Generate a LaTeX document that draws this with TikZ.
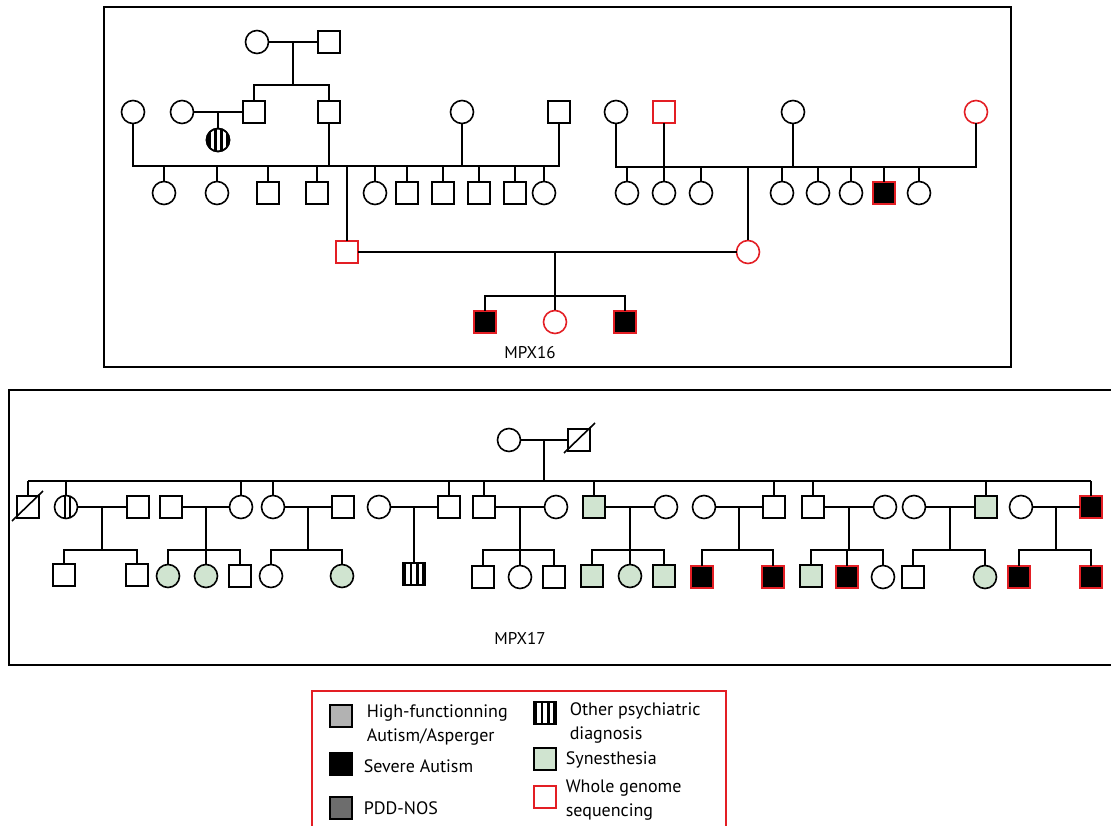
\documentclass[tikz,border=0pt]{standalone}
\usepackage{fontspec}
\setmainfont{PT Sans}
\usetikzlibrary{calc}
\definecolor{wred}{RGB}{227,30,36}
\definecolor{syngreen}{RGB}{208,228,208}
\definecolor{hfgray}{RGB}{178,178,178}
\definecolor{pddgray}{RGB}{109,109,109}
\newcommand{\sqstripes}[1]{%
  \fill[black] ($(#1.center)+(-11,-11)$) rectangle ++(3,22);
  \fill[black] ($(#1.center)+(-4.5,-11)$) rectangle ++(2.5,22);
  \fill[black] ($(#1.center)+(2,-11)$) rectangle ++(2.5,22);
  \fill[black] ($(#1.center)+(8,-11)$) rectangle ++(3,22);}
\begin{document}
\begin{tikzpicture}[x=1pt,y=-1pt,line width=1.6pt,
  sym/.style={draw, line width=1.6pt, inner sep=0pt, outer sep=0pt, fill=white},
  ml/.style={sym, rectangle, minimum size=22pt},
  fm/.style={sym, circle, minimum size=23pt},
  wgs/.style={draw=wred},
  sev/.style={fill=black},
  syn/.style={fill=syngreen},
  lbl/.style={font=\fontsize{17}{20}\selectfont, inner sep=0pt},
  leg/.style={font=\fontsize{18}{24}\selectfont, anchor=west, align=left, inner sep=0pt}]
\useasboundingbox (0,0) rectangle (1111,826);

% ================= MPX16 =================
\draw (104,7) rectangle (1011,367);
\node[fm] (a1) at (257,42) {};
\node[ml] (a2) at (329,42) {};
\draw (a1) -- (a2);
\coordinate (m1) at ($(a1)!.5!(a2)$);
\coordinate (S1) at (0,85);
\draw (m1) -- (m1 |- S1);

\node[fm] (b1) at (133,112) {};
\node[fm] (b2) at (182,112) {};
\node[ml] (b3) at (254,112) {};
\node[ml] (b4) at (329,112) {};
\node[fm] (b5) at (462,112) {};
\node[ml] (b6) at (559,112) {};
\draw (b3.north) -- (b3.north |- S1) -- (b4.north |- S1) -- (b4.north);
\draw (b2) -- (b3);
\node[fm] (b7) at (218,140) {};
\begin{scope}
  \clip (b7.center) circle[radius=11.5pt];
  \fill[black] ($(b7.center)+(-12,-12)$) rectangle ++(4.5,24);
  \fill[black] ($(b7.center)+(-4.5,-12)$) rectangle ++(3,24);
  \fill[black] ($(b7.center)+(1.5,-12)$) rectangle ++(3,24);
  \fill[black] ($(b7.center)+(7.5,-12)$) rectangle ++(4.5,24);
\end{scope}
\draw (b7.center) circle[radius=11.5pt];
\coordinate (m2) at ($(b2)!.5!(b3)$);
\draw (m2) -- (m2 |- b7.north);

\coordinate (L16) at (0,166);
\draw (b1.south) -- (b1.south |- L16) -- (b6.south |- L16) -- (b6.south);
\draw (b4.south) -- (b4.south |- L16);
\draw (b5.south) -- (b5.south |- L16);
\foreach \i/\x in {1/164,2/217,5/375,10/544}{
  \node[fm] (c\i) at (\x,193) {};
  \draw (c\i.north) -- (c\i.north |- L16);}
\foreach \i/\x in {3/268,4/317,6/407,7/443,8/479,9/515}{
  \node[ml] (c\i) at (\x,193) {};
  \draw (c\i.north) -- (c\i.north |- L16);}
\node[ml,wgs] (r1) at (347,252) {};
\draw (r1.north) -- (r1.north |- L16);

\node[fm] (d1) at (616,112) {};
\node[ml,wgs] (d2) at (664,112) {};
\node[fm] (d3) at (793,112) {};
\node[fm,wgs] (d4) at (976,112) {};
\coordinate (R16) at (0,167);
\draw (d1.south) -- (d1.south |- R16) -- (d4.south |- R16) -- (d4.south);
\draw (d2.south) -- (d2.south |- R16);
\draw (d3.south) -- (d3.south |- R16);
\foreach \i/\x in {1/627,2/664,3/701,4/782,5/818,6/851,8/919}{
  \node[fm] (p\i) at (\x,193) {};
  \draw (p\i.north) -- (p\i.north |- R16);}
\node[ml,sev,wgs] (p7) at (884,193) {};
\draw (p7.north) -- (p7.north |- R16);
\node[fm,wgs] (r2) at (748,252) {};
\draw (r2.north) -- (r2.north |- R16);

\draw (r1) -- (r2);
\coordinate (m16) at (555,252);
\node[ml,sev,wgs] (e1) at (485,322) {};
\node[fm,wgs] (e2) at (555,322) {};
\node[ml,sev,wgs] (e3) at (625,322) {};
\draw (m16) -- (e2.north);
\draw (e1.north) -- ++(0,-15) -| (e3.north);
\node[lbl] (t16) at (530,353) {MPX16};

% ================= MPX17 =================
\draw (9,390) rectangle (1118,665);
\node[fm] (g1) at (509,440) {};
\node[ml] (g2) at (579,440) {};
\draw (g1) -- (g2);
\draw ($(g2)+(-15,13)$) -- ($(g2)+(16,-17)$);
\coordinate (L17) at (0,481);
\coordinate (m17) at ($(g1)!.5!(g2)$);
\draw (m17) -- (m17 |- L17);

\foreach \i/\x in {2/66,5/241,6/273,8/379,11/556,13/666,14/704,17/885,18/914,20/1021}{
  \node[fm] (h\i) at (\x,507) {};}
\foreach \i/\x in {1/28,3/138,4/171,7/343,9/449,10/484,15/774,16/813}{
  \node[ml] (h\i) at (\x,507) {};}
\node[ml,syn] (h12) at (594,507) {};
\node[ml,syn] (h19) at (986,507) {};
\node[ml,sev,wgs] (h21) at (1091,507) {};
\draw ($(h1)+(-16,14)$) -- ($(h1)+(15,-16)$);
\draw ($(h2)+(-1,-11.4)$) -- ($(h2)+(-1,11.4)$);
\draw ($(h2)+(4,-10.7)$) -- ($(h2)+(4,10.7)$);
\draw (h1.north |- L17) -- (h21.north |- L17);
\foreach \n in {h1,h2,h5,h6,h9,h10,h12,h15,h16,h19,h21}{
  \draw (\n.north) -- (\n.north |- L17);}
\foreach \a/\b in {h2/h3,h4/h5,h6/h7,h8/h9,h10/h11,h12/h13,h14/h15,h16/h17,h18/h19,h20/h21}{
  \draw (\a) -- (\b);}

\coordinate (S17) at (0,550);
% children
\node[ml] (k1) at (64,575) {};
\node[ml] (k2) at (137,575) {};
\node[fm,syn] (k3) at (168,576) {};
\node[fm,syn] (k4) at (206,576) {};
\node[ml] (k5) at (240,576) {};
\node[fm] (k6) at (271,576) {};
\node[fm,syn] (k7) at (342,576) {};
\node[ml] (k8) at (414,574) {};
\sqstripes{k8}
\node[ml] (k9) at (483,577) {};
\node[fm] (k10) at (520,577) {};
\node[ml] (k11) at (554,577) {};
\node[ml,syn] (k12) at (592,576) {};
\node[fm,syn] (k13) at (630,576) {};
\node[ml,syn] (k14) at (664,576) {};
\node[ml,sev,wgs] (k15) at (702,577) {};
\node[ml,sev,wgs] (k16) at (773,577) {};
\node[ml,syn] (k17) at (811,576) {};
\node[ml,sev,wgs] (k18) at (847,577) {};
\node[fm] (k19) at (883,577) {};
\node[ml] (k20) at (913,577) {};
\node[fm,syn] (k21) at (985,577) {};
\node[ml,sev,wgs] (k22) at (1019,577) {};
\node[ml,sev,wgs] (k23) at (1091,577) {};

\foreach \a/\b/\l/\r in {h2/h3/k1/k2, h4/h5/k3/k5, h6/h7/k6/k7, h10/h11/k9/k11,
   h12/h13/k12/k14, h14/h15/k15/k16, h16/h17/k17/k19, h18/h19/k20/k21, h20/h21/k22/k23}{
  \coordinate (mm) at ($(\a)!.5!(\b)$);
  \draw (mm) -- (mm |- S17);
  \draw (\l.north) -- (\l.north |- S17) -- (\r.north |- S17) -- (\r.north);}
\foreach \c in {k4,k10,k13,k18}{
  \draw (\c.north) -- (\c.north |- S17);}
\coordinate (m8) at ($(h8)!.5!(h9)$);
\draw (m8) -- (m8 |- k8.north);
\node[lbl] (t17) at (520,638) {MPX17};

% ================= Legend =================
\draw[wred] (312,691) rectangle (726,840);
\node[ml,fill=hfgray] (l1) at (341,716) {};
\node[ml,fill=black] (l2) at (341,764) {};
\node[ml,fill=pddgray] (l3) at (341,808) {};
\node[ml] (l4) at (545,713) {};
\sqstripes{l4}
\node[ml,syn] (l5) at (545,759) {};
\node[ml,wgs] (l6) at (545,797) {};
\node[leg] (lt1) at (366,725) {High-functionning\\Autism/Asperger};
\node[leg] (lt2) at (363,766) {Severe Autism};
\node[leg] (lt3) at (363,808) {PDD-NOS};
\node[leg] (lt4) at (569,723) {Other psychiatric\\diagnosis};
\node[leg] (lt5) at (565,760) {Synesthesia};
\node[leg] (lt6) at (565,800) {Whole genome\\sequencing};
\end{tikzpicture}
\end{document}
